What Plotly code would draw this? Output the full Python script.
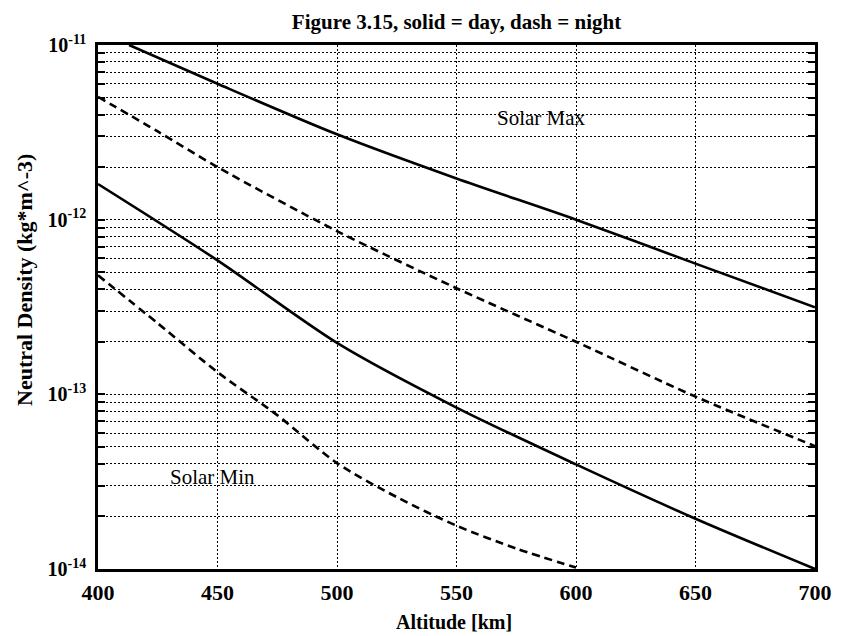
import plotly.graph_objects as go
import math

# ---- data ----
max_day_alt = [413, 450, 500, 550, 600, 650, 700]
max_day_rho = [1.0e-11, 6.0e-12, 3.08e-12, 1.72e-12, 1.0e-12, 5.6e-13, 3.15e-13]

max_night_alt = [400, 425, 450, 500, 550, 600, 650, 700]
max_night_rho = [5.05e-12, 3.2e-12, 2.0e-12, 8.6e-13, 4.05e-13, 2.0e-13, 9.7e-14, 5.05e-14]

min_day_alt = [400, 450, 500, 550, 600, 650, 700]
min_day_rho = [1.6e-12, 5.85e-13, 1.97e-13, 8.4e-14, 3.97e-14, 1.94e-14, 1.0e-14]

min_night_alt = [400, 425, 450, 475, 500, 525, 550, 575, 600]
min_night_rho = [4.8e-13, 2.55e-13, 1.34e-13, 7.6e-14, 4.04e-14, 2.58e-14, 1.77e-14, 1.31e-14, 1.02e-14]

x_ticks = [400, 450, 500, 550, 600, 650, 700]
x_tick_labels = ["400", "450", "500", "550", "600", "650", "700"]
y_decades = [-14, -13, -12, -11]
y_tick_labels = ["10<sup>-14</sup>", "10<sup>-13</sup>", "10<sup>-12</sup>", "10<sup>-11</sup>"]

title_text = "Figure 3.15, solid = day, dash = night"
x_title = "Altitude [km]"
y_title = "Neutral Density (kg*m^-3)"
label_max = ("Solar Max", 585.6, 3.82e-12)
label_min = ("Solar Min", 447.7, 3.36e-14)

FONT = "Liberation Serif, Times New Roman, serif"

# the page body adds an 8px margin; size the figure so it ends at the window edge
W, H = 836, 628
L, T = 90, 37
PLOT_W, PLOT_H = 727, 524

major_vals = [10.0 ** d for d in y_decades]
minor_vals = [k * 10.0 ** d for d in y_decades[:-1] for k in range(2, 10)]

fig = go.Figure()
line_w = 2.6
common = dict(shape="spline", smoothing=0.8)
fig.add_trace(go.Scatter(x=max_day_alt, y=max_day_rho, mode="lines",
                         line=dict(color="black", width=line_w, **common), showlegend=False))
fig.add_trace(go.Scatter(x=max_night_alt, y=max_night_rho, mode="lines",
                         line=dict(color="black", width=line_w, dash="8px,5px", **common),
                         showlegend=False))
fig.add_trace(go.Scatter(x=min_day_alt, y=min_day_rho, mode="lines",
                         line=dict(color="black", width=line_w, **common), showlegend=False))
fig.add_trace(go.Scatter(x=min_night_alt, y=min_night_rho, mode="lines",
                         line=dict(color="black", width=line_w, dash="8px,5px", **common),
                         showlegend=False))

fig.update_layout(
    width=W, height=H,
    margin=dict(l=L, r=W - L - PLOT_W, t=T, b=H - T - PLOT_H),
    paper_bgcolor="white", plot_bgcolor="white",
    font=dict(family=FONT, color="black"),
    title=dict(text=title_text, x=0.5, xref="paper", xanchor="center",
               y=1 - 14 / H, yanchor="middle",
               font=dict(family=FONT, size=21, weight=700, color="black")),
)

fig.update_xaxes(
    range=[400, 700], tickvals=x_ticks, ticktext=x_tick_labels,
    showgrid=True, gridcolor="black", gridwidth=1, griddash="2px,2px",
    showline=True, linecolor="black", linewidth=2.5, mirror=True,
    ticks="", zeroline=False,
    tickfont=dict(family=FONT, size=22, weight=700, color="black"),
    ticklabelstandoff=2,
)
fig.update_yaxes(
    type="log", range=[-14, -11], tickvals=major_vals, ticktext=y_tick_labels,
    showgrid=True, gridcolor="black", gridwidth=1, griddash="2px,2px",
    showline=True, linecolor="black", linewidth=2.5, mirror="ticks",
    ticks="inside", ticklen=7, tickwidth=2, tickcolor="black", zeroline=False,
    tickfont=dict(family=FONT, size=20, weight=700, color="black"),
    ticklabelstandoff=5,
    minor=dict(tickvals=minor_vals, showgrid=True, gridcolor="black", gridwidth=1,
               griddash="2px,2px", ticks="inside", ticklen=7, tickwidth=2,
               tickcolor="black"),
)

annotations = [
    dict(text=x_title, xref="paper", yref="paper", x=0.496, y=0, yshift=-53,
         xanchor="center", yanchor="middle", showarrow=False,
         font=dict(family=FONT, size=20, weight=700, color="black")),
    dict(text=y_title, xref="paper", yref="paper", x=0, xshift=-74,
         y=(PLOT_H - 235) / PLOT_H, textangle=-90,
         xanchor="center", yanchor="middle", showarrow=False,
         font=dict(family=FONT, size=22, weight=700, color="black")),
]
for txt, ax_, ay_ in (label_max, label_min):
    annotations.append(dict(text=txt, x=ax_, y=math.log10(ay_), xref="x", yref="y",
                            showarrow=False, xanchor="center", yanchor="middle",
                            font=dict(family=FONT, size=21, color="black")))
fig.update_layout(annotations=annotations)

fig.write_html("out.html")
